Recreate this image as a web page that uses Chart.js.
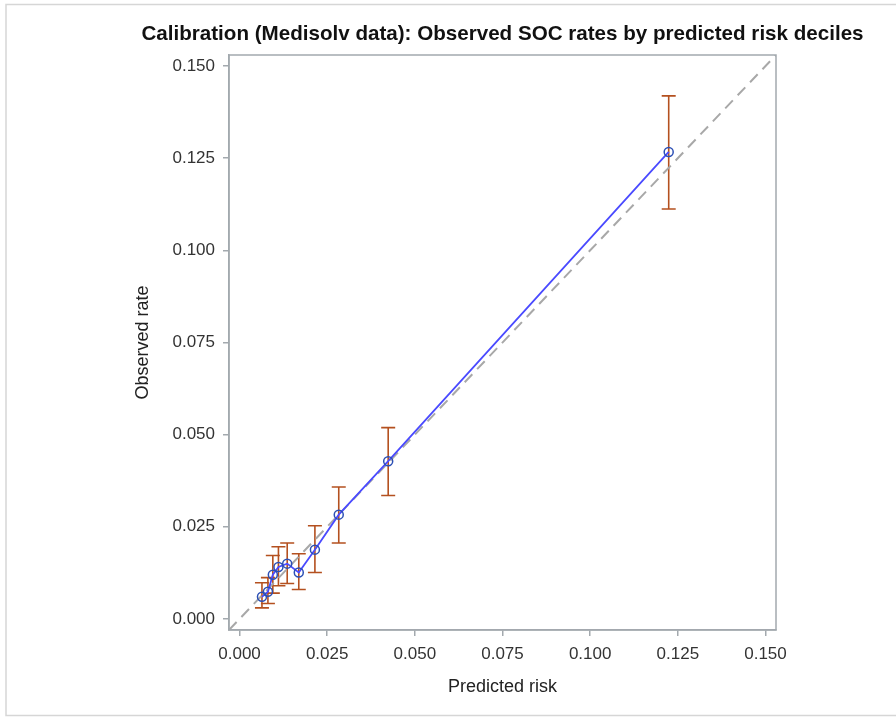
<!DOCTYPE html>
<html>
<head>
<meta charset="utf-8">
<script src="https://cdn.jsdelivr.net/npm/chart.js@4.4.0/dist/chart.umd.min.js"></script>
<style>
  html, body { margin: 0; padding: 0; background: #fff; }
  #wrap { width: 896px; height: 717px; position: relative; }
</style>
</head>
<body>
<div id="wrap"><canvas id="calib"></canvas></div>
<script>
// decile points
const predicted = [0.0064, 0.0081, 0.0095, 0.0111, 0.0136, 0.0169, 0.0215, 0.0283, 0.0424, 0.1224];
const observed  = [0.0060, 0.0074, 0.0120, 0.0141, 0.0150, 0.0126, 0.0188, 0.0283, 0.0428, 0.1267];
const lowerCI   = [0.0030, 0.0042, 0.0070, 0.0090, 0.0096, 0.0080, 0.0126, 0.0206, 0.0335, 0.1112];
const upperCI   = [0.0098, 0.0112, 0.0172, 0.0196, 0.0206, 0.0177, 0.0253, 0.0358, 0.0519, 0.1419];
const tickValues = [0, 0.025, 0.05, 0.075, 0.1, 0.125, 0.15];
const tickLabels = ['0.000', '0.025', '0.050', '0.075', '0.100', '0.125', '0.150'];
const axisRange = [-0.003, 0.153];
const chartTitle = 'Calibration (Medisolv data): Observed SOC rates by predicted risk deciles';

const axisGray = '#a3a9ae';
const fontFam = 'Liberation Sans, Arial, sans-serif';

const errorBars = {
  id: 'errorBars',
  beforeDatasetsDraw(chart) {
    const c = chart.ctx, xs = chart.scales.x, ys = chart.scales.y;
    c.save();
    c.strokeStyle = '#b4501f';
    c.lineWidth = 1.6;
    for (let i = 0; i < predicted.length; i++) {
      const px = xs.getPixelForValue(predicted[i]);
      const top = ys.getPixelForValue(upperCI[i]);
      const bot = ys.getPixelForValue(lowerCI[i]);
      c.beginPath();
      c.moveTo(px, top); c.lineTo(px, bot);
      c.moveTo(px - 7, top); c.lineTo(px + 7, top);
      c.moveTo(px - 7, bot); c.lineTo(px + 7, bot);
      c.stroke();
    }
    c.restore();
  }
};

// frame around plot, page border, and the title centred over the plot
const frame = {
  id: 'frame',
  afterDraw(chart) {
    const c = chart.ctx, a = chart.chartArea;
    c.save();
    c.strokeStyle = axisGray;
    c.lineWidth = 1.5;
    c.strokeRect(a.left, a.top, a.right - a.left, a.bottom - a.top);
    c.strokeStyle = '#d6d6d6';
    c.strokeRect(6, 4.5, 895, 711);
    c.fillStyle = '#111';
    c.font = 'bold 20.6px ' + fontFam;
    c.textAlign = 'center';
    c.textBaseline = 'middle';
    c.fillText(chartTitle, (a.left + a.right) / 2, 34);
    c.restore();
  }
};

function axis(titleText, fit, titlePad) {
  return {
    type: 'linear',
    min: axisRange[0],
    max: axisRange[1],
    afterBuildTicks: s => { s.ticks = tickValues.map(v => ({ value: v })); },
    afterFit: fit,
    ticks: {
      autoSkip: false,
      maxRotation: 0,
      padding: 8,
      color: '#333',
      font: { family: fontFam, size: 17 },
      callback: v => tickLabels[tickValues.indexOf(v)]
    },
    grid: { display: true, drawOnChartArea: false, drawTicks: true, tickLength: 6, color: axisGray, lineWidth: 1.5 },
    border: { display: true, color: axisGray, width: 1.5 },
    title: {
      display: true,
      text: titleText,
      color: '#222',
      font: { family: fontFam, size: 18 },
      padding: titlePad
    }
  };
}

new Chart(document.getElementById('calib'), {
  type: 'scatter',
  data: {
    datasets: [
      {
        label: 'Reference',
        data: [{ x: axisRange[0], y: axisRange[0] }, { x: axisRange[1], y: axisRange[1] }],
        showLine: true,
        borderColor: '#a8a8a8',
        borderWidth: 2,
        borderDash: [11, 7],
        pointRadius: 0,
        order: 3
      },
      {
        label: 'Observed',
        data: predicted.map((p, i) => ({ x: p, y: observed[i] })),
        showLine: true,
        borderColor: '#4a4aff',
        borderWidth: 1.8,
        pointRadius: 4.5,
        pointBorderWidth: 1.5,
        pointBorderColor: '#2b4fb5',
        pointBackgroundColor: 'rgba(0,0,0,0)',
        order: 1
      }
    ]
  },
  options: {
    responsive: true,
    maintainAspectRatio: false,
    animation: false,
    devicePixelRatio: 1,
    layout: { padding: { left: 0, right: 120, top: 55, bottom: 0 } },
    plugins: {
      legend: { display: false },
      tooltip: { enabled: false },
      title: { display: false }
    },
    scales: {
      x: axis('Predicted risk', s => { s.height = 87; }, { top: 0, bottom: 19 }),
      y: axis('Observed rate', s => { s.width = 229; }, { top: 132, bottom: 0 })
    }
  },
  plugins: [errorBars, frame]
});
</script>
</body>
</html>
